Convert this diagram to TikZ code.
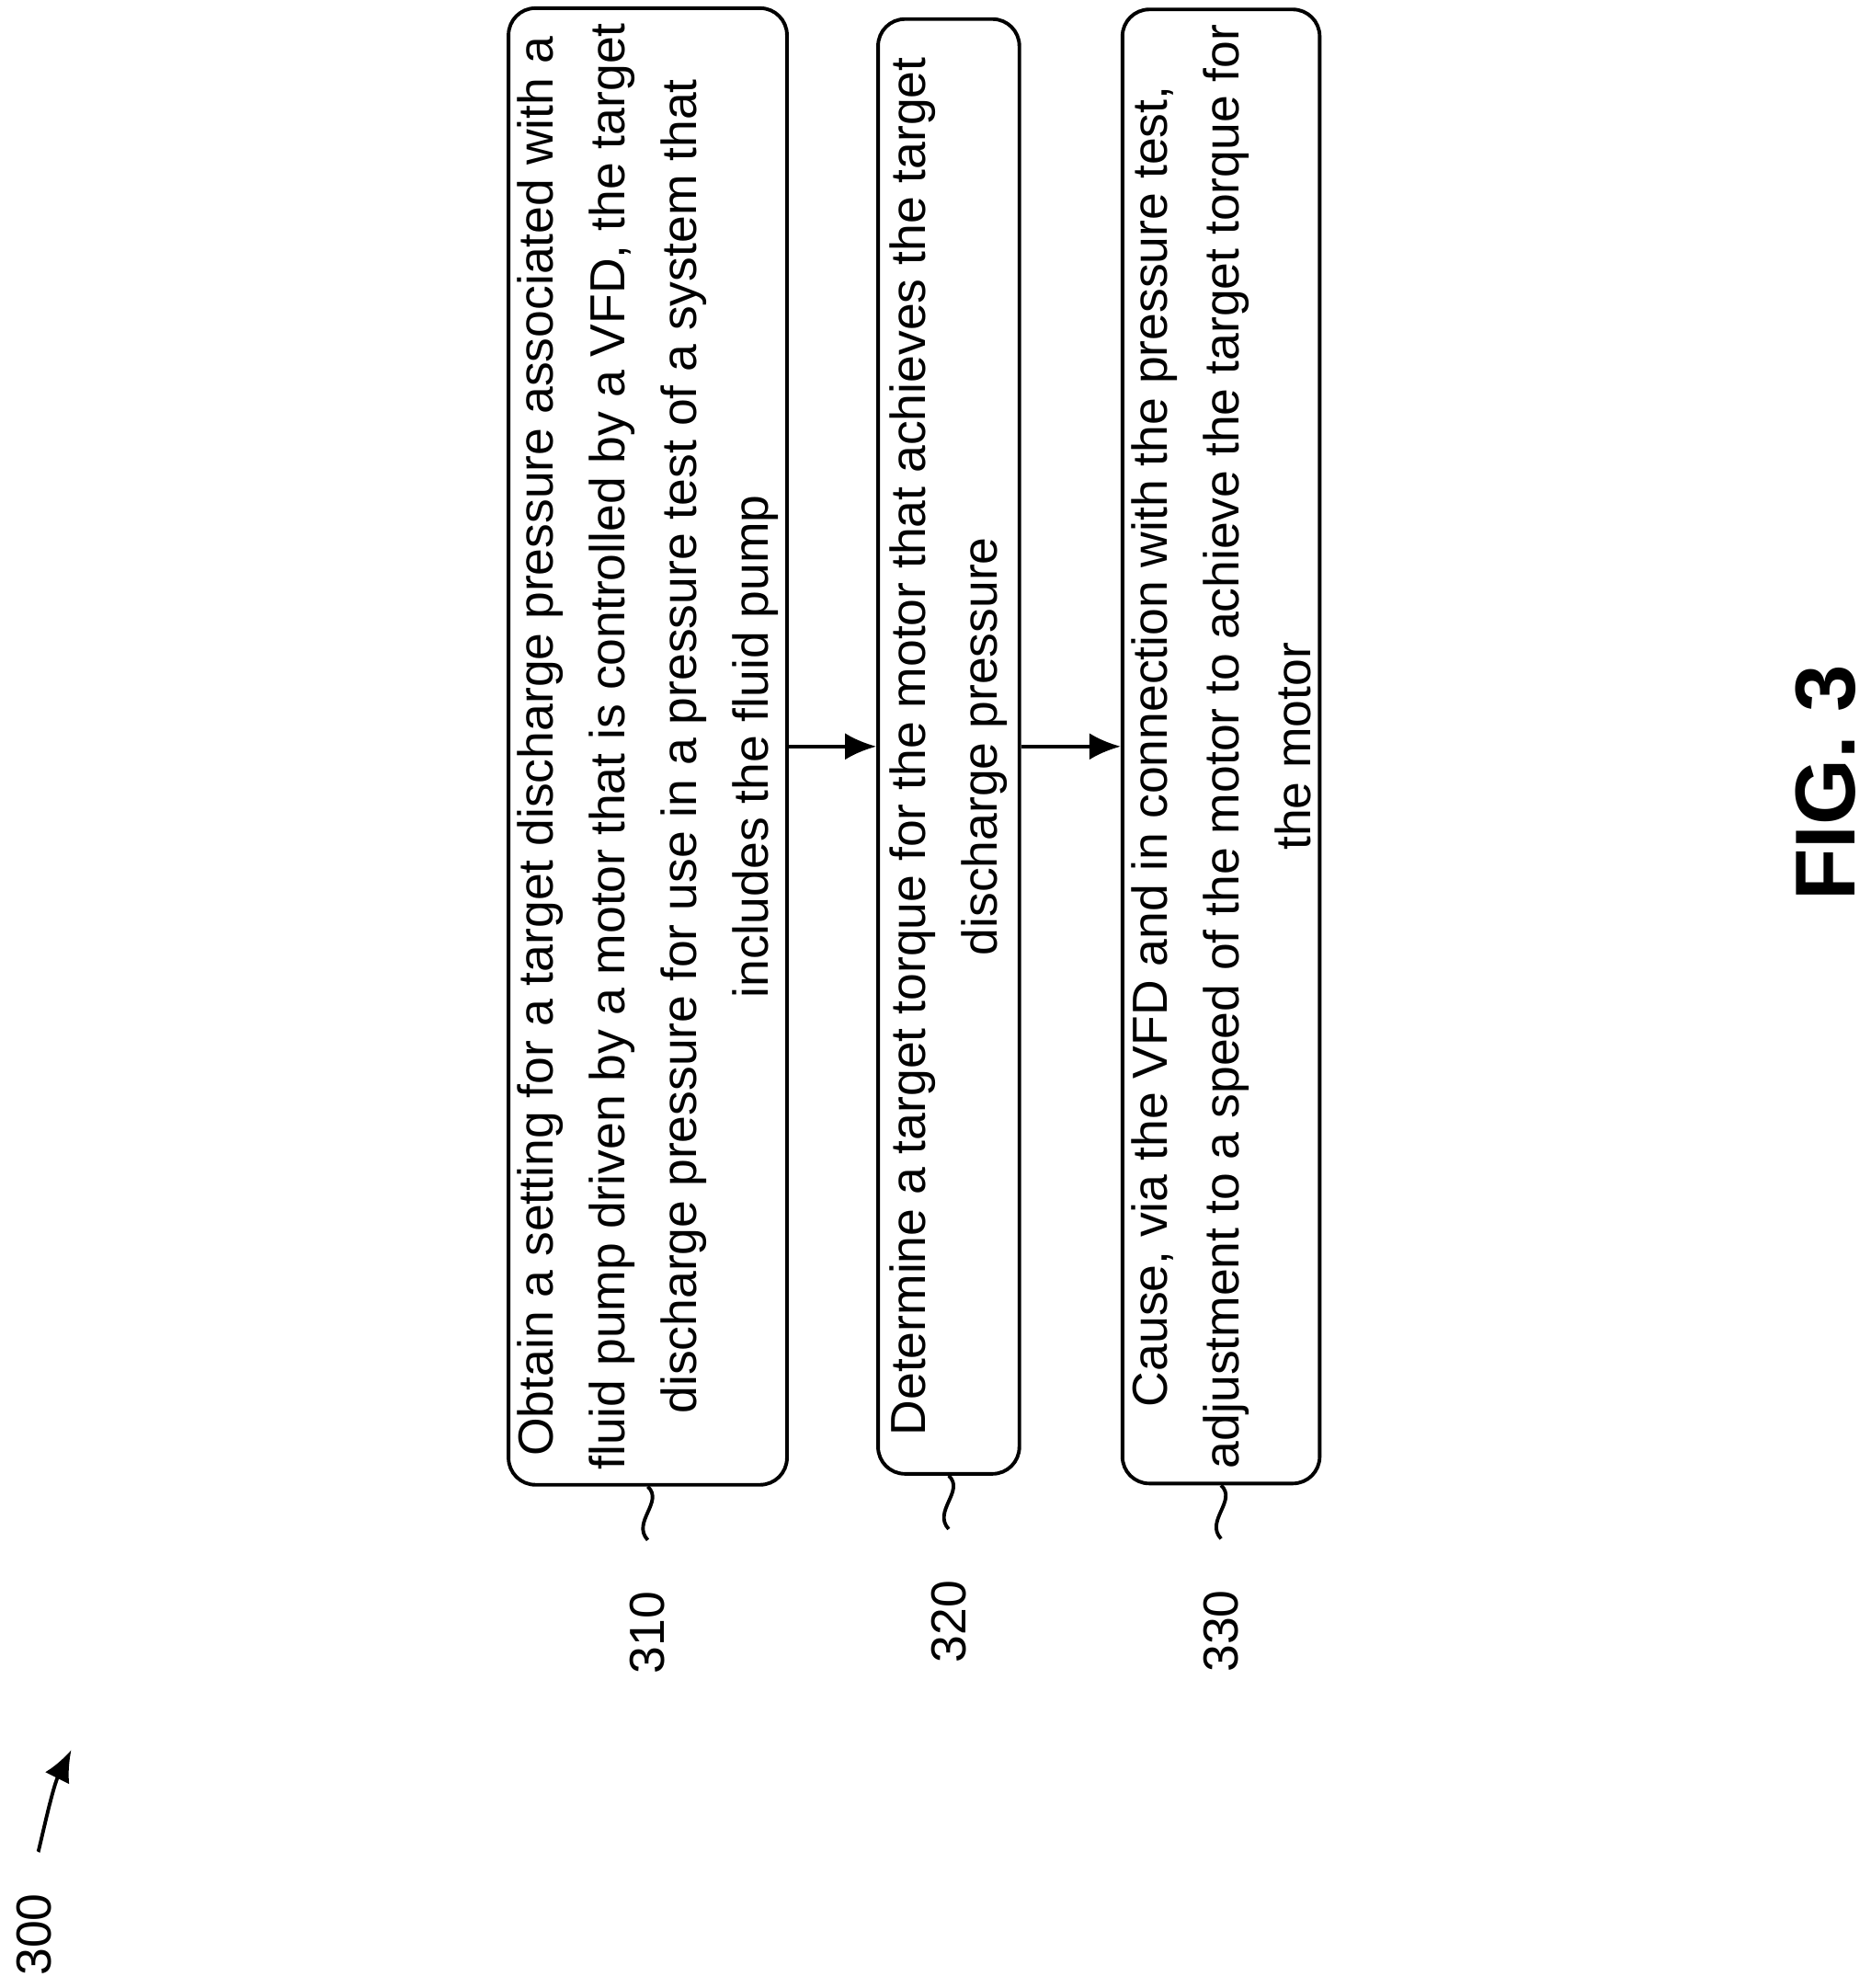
\documentclass[tikz,border=0pt]{standalone}
\usepackage{fontspec}
\setmainfont{Liberation Sans}
\usetikzlibrary{arrows.meta}
\tikzset{
  stepbox/.style={draw,thick,rounded corners=6pt,rotate=90,minimum width=11.43cm,align=center,inner ysep=2pt,font=\fontsize{11}{16}\selectfont},
  reflabel/.style={rotate=90,font=\fontsize{11}{14}\selectfont},
  flow/.style={thick,-{Latex[length=7pt,width=6pt]}},
}
\begin{document}
\begin{tikzpicture}
  \useasboundingbox (0,0) rectangle (14.7,-15.62);

  \node[stepbox,minimum height=1.98cm] (b1) at (5.09,-5.865)
    {Obtain a setting for a target discharge pressure associated with a\\ fluid pump driven by a motor that is controlled by a VFD, the target\\ discharge pressure for use in a pressure test of a system that\\ includes the fluid pump};
  \node[stepbox,minimum height=1.11cm] (b2) at (7.455,-5.865)
    {Determine a target torque for the motor that achieves the target\\ discharge pressure};
  \node[stepbox,minimum height=1.55cm] (b3) at (9.595,-5.865)
    {Cause, via the VFD and in connection with the pressure test,\\ adjustment to a speed of the motor to achieve the target torque for\\ the motor};

  \draw[flow] (b1.south) -- (b2.north);
  \draw[flow] (b2.south) -- (b3.north);

  % reference numerals
  \foreach \b/\n in {b1/310,b2/320,b3/330}{
    \draw[thick] (\b.west) .. controls +(0.13,-0.12) and +(-0.13,0.14) .. ++(0,-0.42) coordinate (t\n);
    \node[reflabel,anchor=east] (l\n) at ([yshift=-0.28cm]t\n) {\n};
  }

  \node[reflabel] (fig300) at (0.27,-15.2) {300};
  \coordinate (a300) at (0.3,-14.55);
  \draw[thick,-{Latex[length=7pt,width=6pt]}] (a300) .. controls +(0,-0.02) and +(-0.15,-0.3) .. (0.56,-13.75);

  \node[rotate=90,font=\bfseries\fontsize{19}{24}\selectfont] (fig) at (14.35,-6.15) {FIG. 3};
\end{tikzpicture}
\end{document}
